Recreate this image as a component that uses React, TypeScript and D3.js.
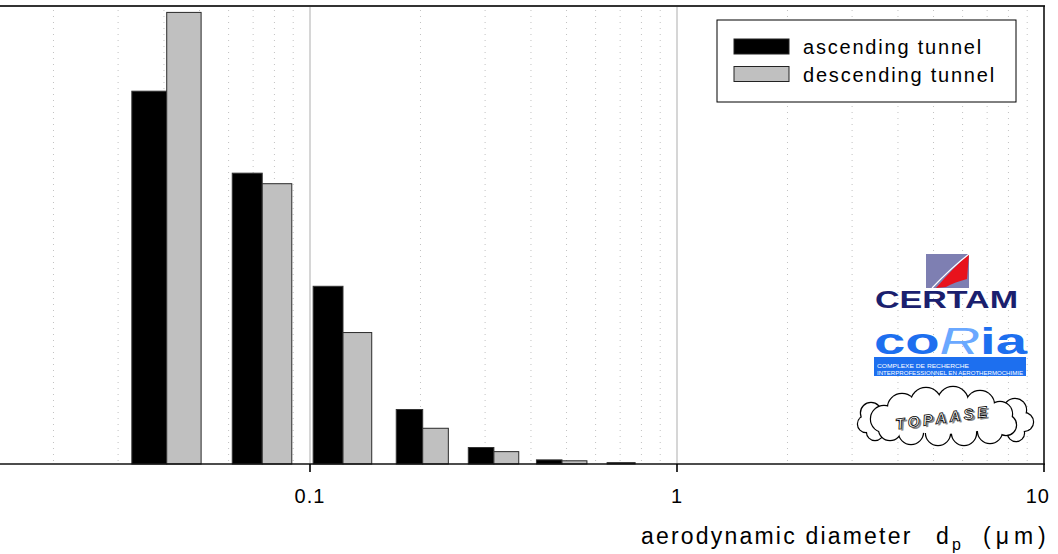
import React from 'react';
import * as d3 from 'd3';

// impactor stages (um): lower edge, split point, upper edge
const stageLow = [0.0327, 0.0614, 0.102, 0.1718, 0.27, 0.414, 0.645];
const stageMid = [0.0407, 0.0741, 0.123, 0.2028, 0.317, 0.486, 0.769];
const stageHigh = [0.0505, 0.0892, 0.1473, 0.2382, 0.3705, 0.5683, 0.94];

// relative number concentration (arbitrary units)
const ascending = [81.4, 63.5, 38.8, 11.9, 3.6, 0.9, 0.3];
const descending = [98.6, 61.2, 28.7, 7.8, 2.7, 0.7, 0];

const majorTicks = [0.1, 1, 10];
const tickLabels = ['0.1', '1', '10'];
const seriesNames = ['ascending tunnel', 'descending tunnel'];

const W = 1058;
const H = 554;
const margin = { top: 6, right: 14, bottom: 90, left: -57 };

const font = "Arial, 'Liberation Sans', sans-serif";

const Cloud = () => {
  const back = [
    [871, 413, 10], [866, 424, 8], [875, 432, 8],
    [1015, 410, 11], [1024, 422, 9], [1016, 433, 8],
  ];
  const front = [
    [884, 419, 13], [902, 408, 14], [926, 403, 15], [953, 402, 15], [980, 405, 14],
    [1000, 414, 12], [1006, 425, 10], [990, 431, 12], [964, 433, 12], [938, 433, 12],
    [911, 432, 12], [890, 429, 11],
  ];
  const layer = (cs: number[][], k: string) => (
    <g key={k}>
      {cs.map((c, i) => <circle key={'s' + i} cx={c[0]} cy={c[1]} r={c[2]} fill="#fff" stroke="#000" strokeWidth={2.4} />)}
      {cs.map((c, i) => <circle key={'f' + i} cx={c[0]} cy={c[1]} r={c[2]} fill="#fff" />)}
      {k === 'front' && <ellipse cx={944} cy={419} rx={58} ry={15} fill="#fff" />}
    </g>
  );
  return (
    <g>
      {layer(back, 'back')}
      {layer(front, 'front')}
      <g transform="rotate(-8 942 418)" fontFamily={font} fontStyle="italic" fontWeight="bold" fontSize={15} letterSpacing={3.5}>
        <text x={945} y={425} textAnchor="middle" fill="#8a8a8a">TOPAASE</text>
        <text x={943} y={423} textAnchor="middle" fill="#fff" stroke="#000" strokeWidth={0.8}>TOPAASE</text>
      </g>
    </g>
  );
};

const Logos = () => (
  <g>
    <rect x={926} y={254} width={43} height={34} fill="#7e7fb2" />
    <path d="M 936 288 Q 953 268 969 254 L 967 279 Q 955 282 946 287 Z" fill="#e8121c" />
    <path d="M 932 288 Q 951 268 969 254" fill="none" stroke="#fff" strokeWidth={1.2} />
    <text x={875} y={308} fontFamily={font} fontWeight="bold" fontSize={24} fill="#1b1f6e"
      textLength={143} lengthAdjust="spacingAndGlyphs">CERTAM</text>
    <text x={874} y={354} fontFamily={font} fontWeight="bold" fontSize={36} fill="#1d6fef"
      textLength={153} lengthAdjust="spacingAndGlyphs">
      co<tspan fill="#6aa8ff" fontWeight="normal" fontStyle="italic">R</tspan>ia
    </text>
    <rect x={874} y={357} width={152} height={19} fill="#1d6fef" />
    <text x={877} y={368} fontFamily={font} fontSize={6} fill="#fff"
      textLength={92} lengthAdjust="spacingAndGlyphs">COMPLEXE DE RECHERCHE</text>
    <text x={877} y={375} fontFamily={font} fontSize={6} fill="#fff"
      textLength={146} lengthAdjust="spacingAndGlyphs">INTERPROFESSIONNEL EN AEROTHERMOCHIMIE</text>
    <Cloud />
  </g>
);

const App = () => {
  const x = d3.scaleLog().domain([0.01, 10]).range([margin.left, W - margin.right]);
  const y = d3.scaleLinear().domain([0, 100]).range([H - margin.bottom, margin.top]);
  const y0 = y(0);
  const top = margin.top;
  const right = W - margin.right;

  const minor: number[] = [];
  [0.01, 0.1, 1].forEach(dec => {
    for (let k = 2; k <= 9; k++) minor.push(dec * k);
  });

  return (
    <svg width={W} height={H} style={{ position: 'absolute', left: 0, top: 0, background: '#fff' }}>
      <rect x={0} y={0} width={W} height={H} fill="#fff" />

      {/* grid */}
      {minor.map((v, i) => (
        <line key={'m' + i} x1={x(v)} x2={x(v)} y1={top + 4} y2={y0} stroke="#c2c2c2"
          strokeWidth={1} strokeDasharray="1 5" />
      ))}
      {majorTicks.slice(0, 2).map((v, i) => (
        <line key={'g' + i} x1={x(v)} x2={x(v)} y1={top} y2={y0} stroke="#c8c8c8" strokeWidth={1.5} />
      ))}

      {/* bars */}
      {stageMid.map((m, i) => (
        <g key={'b' + i}>
          {ascending[i] > 0 && (
            <rect x={x(stageLow[i])} y={y(ascending[i])} width={x(m) - x(stageLow[i])}
              height={y0 - y(ascending[i])} fill="#000" stroke="#333" strokeWidth={1} />
          )}
          {descending[i] > 0 && (
            <rect x={x(m)} y={y(descending[i])} width={x(stageHigh[i]) - x(m)}
              height={y0 - y(descending[i])} fill="#c0c0c0" stroke="#2a2a2a" strokeWidth={1} />
          )}
        </g>
      ))}

      {/* frame */}
      <line x1={0} x2={right + 1} y1={top} y2={top} stroke="#333" strokeWidth={2} />
      <line x1={right} x2={right} y1={top} y2={y0} stroke="#111" strokeWidth={1.6} />
      <line x1={0} x2={right + 1} y1={y0} y2={y0} stroke="#111" strokeWidth={1.6} />

      {/* x axis */}
      <g fontFamily={font} fontSize={20} fill="#000">
        {majorTicks.map((v, i) => (
          <g key={'t' + i}>
            <line x1={x(v)} x2={x(v)} y1={y0} y2={y0 + 8} stroke="#000" strokeWidth={1.6} />
            <text x={i === majorTicks.length - 1 ? x(v) + 6 : x(v)} y={503} letterSpacing={1}
              textAnchor={i === majorTicks.length - 1 ? 'end' : 'middle'}>{tickLabels[i]}</text>
          </g>
        ))}
      </g>
      <g fontFamily={font} fontSize={23} fill="#000">
        <text x={641} y={544} letterSpacing={2.2}>aerodynamic diameter</text>
        <text x={936} y={544}>d</text>
        <text x={952} y={550} fontSize={16}>p</text>
        <text x={983} y={544} letterSpacing={5}>(μm)</text>
      </g>

      {/* legend */}
      <rect x={717} y={20} width={299} height={82} fill="#fff" stroke="#000" strokeWidth={1} />
      {seriesNames.map((s, i) => (
        <g key={'l' + i}>
          <rect x={734} y={39 + i * 27.5} width={55} height={15} fill={i === 0 ? '#000' : '#c0c0c0'}
            stroke="#222" strokeWidth={1} />
          <text x={803} y={54 + i * 27.5} fontFamily={font} fontSize={20} letterSpacing={1.8}>{s}</text>
        </g>
      ))}

      <Logos />
    </svg>
  );
};

export default App;
